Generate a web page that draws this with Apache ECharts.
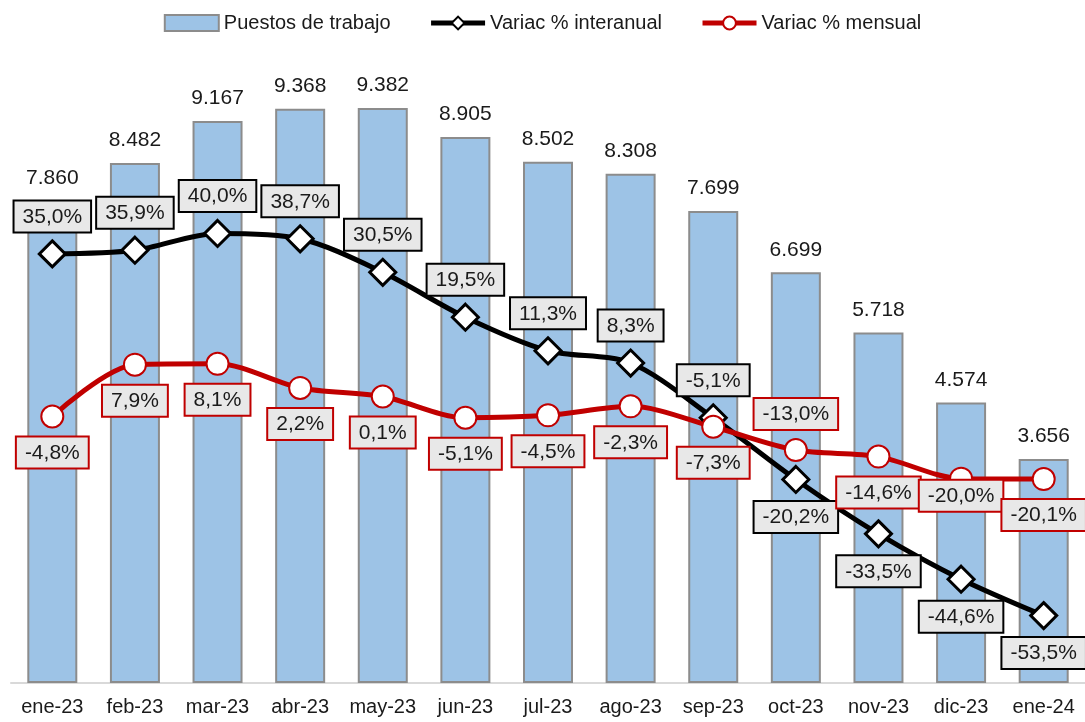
<!DOCTYPE html>
<html>
<head>
<meta charset="utf-8">
<script src="https://cdn.jsdelivr.net/npm/echarts@6/dist/echarts.min.js"></script>
<style>
  html, body { margin: 0; padding: 0; background: #fff; }
  #chart { width: 1085px; height: 722px; }
</style>
</head>
<body>
<div id="chart"></div>
<script>
var months = ['ene-23','feb-23','mar-23','abr-23','may-23','jun-23','jul-23','ago-23','sep-23','oct-23','nov-23','dic-23','ene-24'];
var puestos = [7860, 8482, 9167, 9368, 9382, 8905, 8502, 8308, 7699, 6699, 5718, 4574, 3656];
var interanual = [35.0, 35.9, 40.0, 38.7, 30.5, 19.5, 11.3, 8.3, -5.1, -20.2, -33.5, -44.6, -53.5];
var mensual = [-4.8, 7.9, 8.1, 2.2, 0.1, -5.1, -4.5, -2.3, -7.3, -13.0, -14.6, -20.0, -20.1];
// posicion de la etiqueta de cada punto
var posInteranual = ['top','top','top','top','top','top','top','top','top','bottom','bottom','bottom','bottom'];
var posMensual = ['bottom','bottom','bottom','bottom','bottom','bottom','bottom','bottom','bottom','top','bottom','bottom','bottom'];
// desplazamiento vertical manual de algunas etiquetas (px)
var offMensual = [0,0,0,0,0,0,0,0,0,0,0,-19,0];

var FONT = 'Liberation Sans';

function miles(v) {
    return String(v).replace(/\B(?=(\d{3})+(?!\d))/g, '.');
}
function pct(v) {
    return v.toFixed(1).replace('.', ',') + '%';
}

function lineData(values, positions, offsets) {
    return values.map(function (v, i) {
        return {
            value: v,
            label: { position: positions[i], offset: [0, offsets ? offsets[i] : 0] }
        };
    });
}

var myChart = echarts.init(document.getElementById('chart'));
var option = {
    animation: false,
    textStyle: { fontFamily: FONT },
    legend: {
        top: 8,
        left: 'center',
        itemGap: 38,
        itemWidth: 54,
        itemHeight: 16,
        textStyle: { fontFamily: FONT, fontSize: 20, color: '#1a1a1a' },
        data: [
            { name: 'Puestos de trabajo', icon: 'rect' },
            { name: 'Variac % interanual', lineStyle: { width: 5 } },
            { name: 'Variac % mensual', lineStyle: { width: 5 } }
        ]
    },
    grid: {
        left: 11,
        width: 1075,
        top: 70,
        bottom: 39
    },
    xAxis: {
        type: 'category',
        data: months,
        axisTick: { show: false },
        axisLine: { lineStyle: { color: '#d9d9d9', width: 2 } },
        axisLabel: { interval: 0, fontFamily: FONT, fontSize: 20, color: '#1a1a1a', margin: 14 }
    },
    yAxis: [
        {
            type: 'value',
            min: 0,
            max: 10000,
            show: false,
            splitLine: { show: false }
        },
        {
            type: 'value',
            min: -70,
            max: 80,
            interval: 10,
            show: false,
            splitLine: { show: false }
        }
    ],
    series: [
        {
            name: 'Puestos de trabajo',
            type: 'bar',
            barWidth: 50,
            data: puestos,
            itemStyle: { color: '#9dc3e6', borderColor: '#8c8c8c', borderWidth: 2 },
            label: {
                show: true,
                position: 'top',
                distance: 12,
                fontFamily: FONT,
                fontSize: 21,
                color: '#1a1a1a',
                formatter: function (p) { return miles(p.value); }
            }
        },
        {
            name: 'Variac % interanual',
            type: 'line',
            yAxisIndex: 1,
            smooth: 0.3,
            data: lineData(interanual, posInteranual),
            lineStyle: { color: '#000000', width: 5 },
            itemStyle: { color: '#ffffff', borderColor: '#000000', borderWidth: 3 },
            symbol: 'diamond',
            symbolSize: 26,
            label: {
                show: true,
                distance: 8,
                fontFamily: FONT,
                fontSize: 21,
                color: '#1a1a1a',
                backgroundColor: '#e8e8e8',
                borderColor: '#000000',
                borderWidth: 2,
                padding: [5, 8, 4, 8],
                formatter: function (p) { return pct(p.value); }
            }
        },
        {
            name: 'Variac % mensual',
            type: 'line',
            yAxisIndex: 1,
            smooth: 0.3,
            data: lineData(mensual, posMensual, offMensual),
            lineStyle: { color: '#c00000', width: 5 },
            itemStyle: { color: '#ffffff', borderColor: '#c00000', borderWidth: 2 },
            symbol: 'circle',
            symbolSize: 22,
            label: {
                show: true,
                distance: 9,
                fontFamily: FONT,
                fontSize: 21,
                color: '#1a1a1a',
                backgroundColor: '#e8e8e8',
                borderColor: '#c00000',
                borderWidth: 2,
                padding: [5, 8, 4, 8],
                formatter: function (p) { return pct(p.value); }
            }
        }
    ]
};
window.onresize = myChart.resize;
myChart.setOption(option);
</script>
</body>
</html>
